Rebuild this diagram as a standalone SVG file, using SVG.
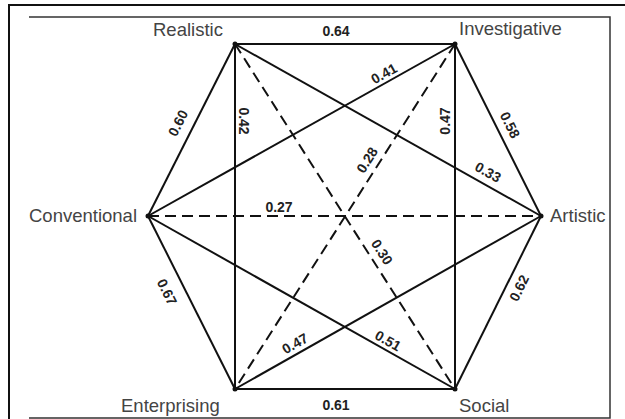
<svg xmlns="http://www.w3.org/2000/svg" width="625" height="419" viewBox="0 0 625 419">
<style>
.frame{fill:none;stroke:#111;stroke-width:2}
.inner{fill:none;stroke:#333;stroke-width:1.5}
.e{stroke:#111;stroke-width:2;fill:none}
.d{stroke:#111;stroke-width:2;fill:none;stroke-dasharray:11 6}
.lbl{font-family:"Liberation Sans",Arial,sans-serif;font-size:18.5px;fill:#444}
.num{font-family:"Liberation Sans",Arial,sans-serif;font-size:14px;font-weight:bold;fill:#222;text-anchor:middle;dominant-baseline:central}
.dot{fill:#111}
</style>
<rect width="625" height="419" fill="#fff"/>
<g id="frame">
<path class="frame" d="M9 419 V5 H625"/>
<path class="inner" d="M29 17 H610 V418 H29"/>
</g>
<g id="connectors">
<line class="e" x1="235" y1="44" x2="455" y2="44"/>
<line class="e" x1="235" y1="44" x2="148" y2="216"/>
<line class="e" x1="235" y1="44" x2="235" y2="389"/>
<line class="e" x1="235" y1="44" x2="541" y2="216"/>
<line class="d" x1="235" y1="44" x2="455" y2="389"/>
<line class="e" x1="455" y1="44" x2="148" y2="216"/>
<line class="e" x1="455" y1="44" x2="541" y2="216"/>
<line class="e" x1="455" y1="44" x2="455" y2="389"/>
<line class="d" x1="455" y1="44" x2="235" y2="389"/>
<line class="d" x1="148" y1="216" x2="541" y2="216"/>
<line class="e" x1="148" y1="216" x2="455" y2="389"/>
<line class="e" x1="148" y1="216" x2="235" y2="389"/>
<line class="e" x1="235" y1="389" x2="455" y2="389"/>
<line class="e" x1="235" y1="389" x2="541" y2="216"/>
<line class="e" x1="455" y1="389" x2="541" y2="216"/>
<text class="num" x="336" y="31">0.64</text>
<text class="num" x="336" y="405">0.61</text>
<text class="num" x="279" y="207">0.27</text>
<text class="num" transform="translate(178,123) rotate(-63.2)">0.60</text>
<text class="num" transform="translate(244,121) rotate(90)">0.42</text>
<text class="num" transform="translate(445,121) rotate(-90)">0.47</text>
<text class="num" transform="translate(510,125) rotate(63.4)">0.58</text>
<text class="num" transform="translate(488,172) rotate(29.3)">0.33</text>
<text class="num" transform="translate(384,73.5) rotate(-29.3)">0.41</text>
<text class="num" transform="translate(367,160) rotate(-57.5)">0.28</text>
<text class="num" transform="translate(382,252) rotate(57.5)">0.30</text>
<text class="num" transform="translate(295,343.5) rotate(-29.4)">0.47</text>
<text class="num" transform="translate(388,340.5) rotate(29.4)">0.51</text>
<text class="num" transform="translate(519,288) rotate(-63.6)">0.62</text>
<text class="num" transform="translate(167,292) rotate(63.3)">0.67</text>
</g>
<g id="realistic"><circle class="dot" cx="235" cy="44" r="2.5"/><text class="lbl" x="153" y="36">Realistic</text></g>
<g id="investigative"><circle class="dot" cx="455" cy="44" r="2.5"/><text class="lbl" x="459" y="35">Investigative</text></g>
<g id="conventional"><circle class="dot" cx="148" cy="216" r="2.5"/><text class="lbl" x="29" y="222">Conventional</text></g>
<g id="artistic"><circle class="dot" cx="541" cy="216" r="2.5"/><text class="lbl" x="550" y="222">Artistic</text></g>
<g id="enterprising"><circle class="dot" cx="235" cy="389" r="2.5"/><text class="lbl" x="121" y="412">Enterprising</text></g>
<g id="social"><circle class="dot" cx="455" cy="389" r="2.5"/><text class="lbl" x="459" y="412">Social</text></g>
</svg>
